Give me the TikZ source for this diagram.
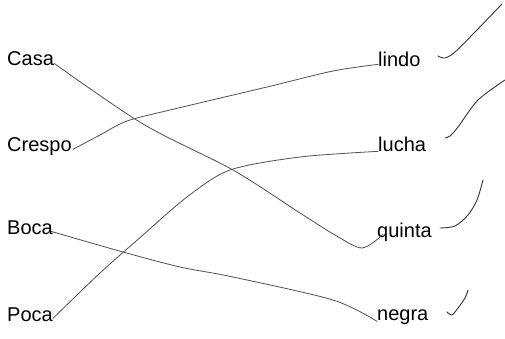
\documentclass[tikz,border=0pt]{standalone}
\usepackage{fontspec}
\setmainfont{Liberation Sans}
\usepackage{tikz}
\usetikzlibrary{positioning}
\definecolor{PenGray}{HTML}{505050}
\definecolor{TickGray}{HTML}{333333}

\begin{document}
\begin{tikzpicture}[x=1pt, y=-1pt,
  every node/.style={font=\fontsize{20}{24}\selectfont, inner sep=0pt},
  word/.style={anchor=base west},
  link/.style={draw=PenGray, line width=0.8pt, line cap=round},
  tick/.style={draw=TickGray, line width=0.9pt, line cap=round}]
\useasboundingbox[fill=white] (0,0) rectangle (505,339);
% left column
\node[word] (casa) at (7,66) {Casa};
\node[word] (crespo) at (7,152) {Crespo};
\node[word] (boca) at (7,234) {Boca};
\node[word] (poca) at (7,321) {Poca};
% right column
\node[word] (lindo) at (378,67) {lindo};
\node[word] (lucha) at (378,152) {lucha};
\node[word] (quinta) at (377,237) {quinta};
\node[word] (negra) at (377,320) {negra};
% hand-drawn links
\draw[link] plot[smooth, tension=0.5] coordinates {(casa.mid east) (143,124) (233,170) (300,213) (335,235) (362,248) ([xshift=6pt]quinta.mid west)};
\draw[link] plot[smooth, tension=0.5] coordinates {([xshift=1pt]crespo.mid east) (100,135) (127,121) (170,110) (267,87) (333,71) (lindo.mid west)};
\draw[link] plot[smooth, tension=0.5] coordinates {([xshift=-2pt]boca.mid east) (123,252) (180,267) (233,277) (333,300) ([yshift=-4pt]negra.mid west)};
\draw[link] plot[smooth, tension=0.5] coordinates {(poca.mid east) (100,273) (143,235) (187,197) (230,170) (300,157) ([yshift=-2pt]lucha.mid west)};
% check marks
\draw[tick] plot[smooth, tension=0.5] coordinates {(438,56) (445,58) (455,52) (475,32) (502,4)};
\draw[tick] plot[smooth, tension=0.5] coordinates {(445,138) (450,136) (458,127) (478,100) (505,80)};
\draw[tick] plot[smooth, tension=0.5] coordinates {(440,228) (455,226) (468,215) (477,200) (483,180)};
\draw[tick] plot[smooth, tension=0.5] coordinates {(447,312) (452,315) (458,308) (465,298) (468,290)};
\end{tikzpicture}
\end{document}
